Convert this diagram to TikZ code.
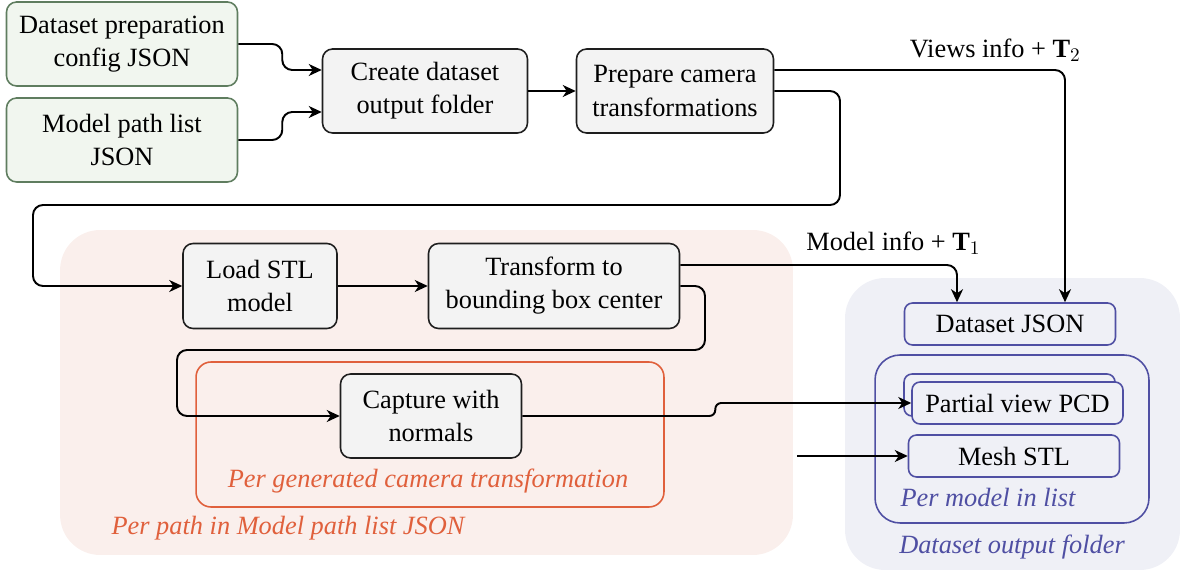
\documentclass[tikz,border=0pt]{standalone}
\usepackage{fontspec}
\setmainfont{Liberation Serif}
\newfontfamily\diagfont{Liberation Serif}
\usepackage{amsmath}
\usetikzlibrary{calc,arrows.meta,positioning}

\definecolor{boxgray}{HTML}{F3F3F3}
\definecolor{boxline}{HTML}{1E1E1E}
\definecolor{ingreen}{HTML}{5F7D5F}
\definecolor{ingreenfill}{HTML}{F1F6EF}
\definecolor{pathfill}{HTML}{FAEFEC}
\definecolor{camorange}{HTML}{E0603C}
\definecolor{outfill}{HTML}{EFF0F6}
\definecolor{outblue}{HTML}{4F4FA3}

\begin{document}
\begin{tikzpicture}[
    x=0.02cm, y=-0.02cm,
    font=\diagfont\fontsize{15}{18.8}\selectfont,
    box/.style={rectangle, rounded corners=0.2cm, draw=boxline, fill=boxgray, line width=0.9pt, minimum height=1.68cm, align=center, inner sep=2pt},
    inbox/.style={box, draw=ingreen, fill=ingreenfill, minimum width=4.62cm},
    outbox/.style={rectangle, rounded corners=0.16cm, draw=outblue, fill=outfill, line width=0.9pt, minimum width=4.22cm, minimum height=0.84cm, inner sep=2pt},
    region/.style={rectangle, rounded corners=0.8cm, inner sep=0pt},
    grouplabel/.style={font=\diagfont\fontsize{15}{18.8}\selectfont\itshape},
    arrow/.style={-{Stealth[length=2.6mm, width=2.4mm, inset=0.8mm]}, line width=1.1pt, rounded corners=0.2cm}
]
    \useasboundingbox (0,0) rectangle (1182,573);

    % grouping regions
    \node[region, fill=pathfill, minimum width=14.66cm, minimum height=6.5cm] (perpath) at (426.5,392.5) {};
    \node[region, rounded corners=0.3cm, draw=camorange, line width=0.9pt, minimum width=9.36cm, minimum height=2.9cm] (percam) at (430,434.5) {};
    \node[region, fill=outfill, minimum width=6.7cm, minimum height=5.84cm] (outfolder) at (1012.5,424) {};
    \node[region, rounded corners=0.5cm, draw=outblue, line width=0.9pt, minimum width=5.48cm, minimum height=3.36cm] (permodel) at (1012,439) {};

    \node[grouplabel, text=camorange] (percamlabel) at (428,481) {Per generated camera transformation};
    \node[grouplabel, text=camorange] (perpathlabel) at (288,528) {Per path in Model path list JSON};
    \node[grouplabel, text=outblue] (permodellabel) at (988,497) {Per model in list};
    \node[grouplabel, text=outblue] (outfolderlabel) at (1012,547) {Dataset output folder};

    % inputs and steps
    \node[inbox] (cfg) at (122,44) {Dataset preparation\\config JSON};
    \node[inbox] (mpl) at (122,140) {Model path list\\JSON};
    \node[box, minimum width=4.1cm] (create) at (425,91) {Create dataset\\output folder};
    \node[box, minimum width=3.94cm] (prep) at (675,91) {Prepare camera\\transformations};
    \node[box, minimum width=3.08cm, minimum height=1.7cm] (load) at (260,286) {Load STL\\model};
    \node[box, minimum width=5.02cm, minimum height=1.7cm] (transform) at (554,286) {Transform to\\bounding box center};
    \node[box, minimum width=3.62cm] (capture) at (431,416) {Capture with\\normals};

    % outputs
    \node[outbox] (dsjson) at (1010,324) {Dataset JSON};
    \node[outbox] (pcdback) at (1009.5,395) {};
    \node[outbox] (pcd) at (1017.5,403) {Partial view PCD};
    \node[outbox] (mesh) at (1014,456) {Mesh STL};

    % connectors
    \draw[arrow] (cfg.east) -- ++(44,0) |- ($(create.west)+(0,-21)$);
    \draw[arrow] (mpl.east) -- ++(44,0) |- ($(create.west)+(0,21)$);
    \draw[arrow] (create) -- (prep);
    \draw[arrow] ($(prep.east)+(0,-21)$) -| ($(dsjson.north)+(55,0)$)
        node[pos=0.38, above=1pt] {Views info + $\mathbf{T}_2$};
    \draw[arrow] (prep.east) -| (840,205) -| (33,286) -- (load.west);
    \draw[arrow] (load) -- (transform);
    \draw[arrow] ($(transform.east)+(0,-21)$) -| ($(dsjson.north)+(-53,0)$)
        node[pos=0.385, above=2pt] {Model info + $\mathbf{T}_1$};
    \draw[arrow] (transform.east) -| (705,350) -| (177,416) -- (capture.west);
    \draw[arrow, rounded corners=0.12cm] (capture.east) -- ++(193,0) |- (pcd.west);
    \draw[arrow] ($(perpath.east |- mesh.west)+(4,0)$) -- (mesh.west);
\end{tikzpicture}
\end{document}
